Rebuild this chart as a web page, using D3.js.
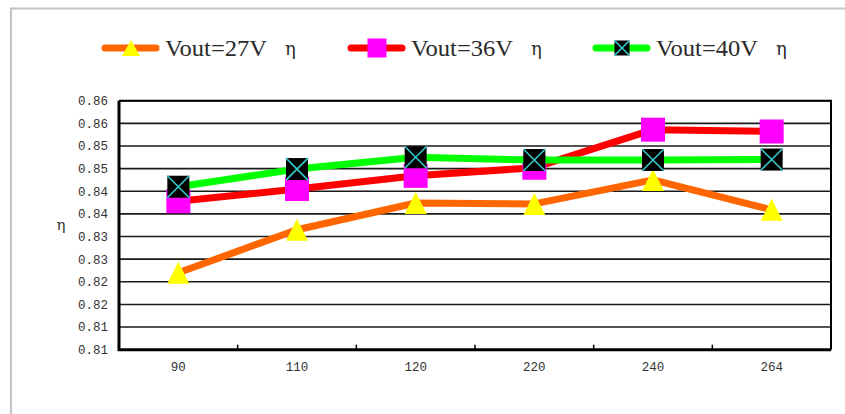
<!DOCTYPE html>
<html><head><meta charset="utf-8">
<script src="https://cdn.jsdelivr.net/npm/d3@7"></script>
<style>body{margin:0;background:#fff}svg{display:block}</style>
</head><body>
<svg id="chart" width="845" height="414"></svg>
<script>
const categories = ["90","110","120","220","240","264"];
const v27 = [0.8220, 0.8315, 0.8374, 0.8372, 0.8425, 0.8359];
const v36 = [0.8378, 0.8405, 0.8434, 0.8452, 0.8536, 0.8532];
const v40 = [0.8410, 0.8449, 0.8475, 0.8469, 0.8469, 0.8470];
const seriesNames = ["Vout=27V", "Vout=36V", "Vout=40V"];
const yTicks = [0.805,0.81,0.815,0.82,0.825,0.83,0.835,0.84,0.845,0.85,0.855,0.86];
const yTickLabels = ["0.81","0.81","0.82","0.82","0.83","0.83","0.84","0.84","0.85","0.85","0.86","0.86"];

const svg = d3.select("#chart");
const L = 119, R = 831, T = 100.7, B = 349.7;
const x = d3.scaleBand().domain(categories).range([L, R]);
const y = d3.scaleLinear().domain([0.805, 0.86]).range([B, T]);

// outer frame
svg.append("path").attr("d", `M11,414 V8.5 H845`).attr("fill","none").attr("stroke","#c4c4c4").attr("stroke-width",2.2);

// gridlines
svg.append("g").selectAll("line").data(yTicks).join("line")
  .attr("x1", L).attr("x2", R).attr("y1", d=>y(d)).attr("y2", d=>y(d))
  .attr("stroke","#1a1a1a").attr("stroke-width",1.6);

// y tick labels
svg.append("g").selectAll("text").data(yTicks).join("text")
  .attr("x", 108).attr("y", d=>y(d)).attr("dy","0.35em").attr("text-anchor","end")
  .attr("font-family","Liberation Mono, monospace").attr("font-size",12.5).attr("fill","#333")
  .text((d,i)=>yTickLabels[i]);

// frame: top/right thinner, left/bottom thicker
svg.append("path").attr("d",`M${L},${T} H${R} V${B}`).attr("fill","none").attr("stroke","#000").attr("stroke-width",2);
svg.append("path").attr("d",`M${L},${T} V${B} H${R}`).attr("fill","none").attr("stroke","#000").attr("stroke-width",3);

// x ticks (inside, at band boundaries)
const bounds = categories.slice(1).map(c => x(c));
svg.append("g").selectAll("line").data(bounds).join("line")
  .attr("x1", d=>d).attr("x2", d=>d).attr("y1", B).attr("y2", B-5)
  .attr("stroke","#000").attr("stroke-width",1.5);

// x labels
svg.append("g").selectAll("text").data(categories).join("text")
  .attr("x", d=>x(d)+x.bandwidth()/2).attr("y", 367).attr("dy","0.35em").attr("text-anchor","middle")
  .attr("font-family","Liberation Mono, monospace").attr("font-size",12.5).attr("fill","#333")
  .text(d=>d);

// y axis title
svg.append("text").attr("x",61).attr("y",225).attr("dy","0.35em").attr("text-anchor","middle")
  .attr("font-family","DejaVu Serif, serif").attr("font-size",15).attr("fill","#333").text("η");

const cx = c => x(c) + x.bandwidth()/2;
const line = d3.line().x((d,i)=>cx(categories[i])).y(d=>y(d));

function tri(g, px, py, w, h){
  g.append("path").attr("d",`M${px},${py-h/2} L${px+w/2},${py+h/2} L${px-w/2},${py+h/2} Z`).attr("fill","#ffff00");
}
function sq(g, px, py, s){
  g.append("rect").attr("x",px-s/2).attr("y",py-s/2).attr("width",s).attr("height",s).attr("fill","#ff00ff");
}
function xsq(g, px, py, s){
  g.append("rect").attr("x",px-s/2).attr("y",py-s/2).attr("width",s).attr("height",s).attr("fill","#000");
  g.append("path").attr("d",`M${px-s/2},${py-s/2} L${px+s/2},${py+s/2} M${px+s/2},${py-s/2} L${px-s/2},${py+s/2}`)
    .attr("stroke","#33cccc").attr("stroke-width",1.6);
}

const series = [
  {vals:v27, color:"#ff6600", marker:(g,px,py)=>tri(g,px,py,22,22), lm:(g,px,py)=>tri(g,px,py,18,16)},
  {vals:v36, color:"#ff0000", marker:(g,px,py)=>sq(g,px,py,24), lm:(g,px,py)=>sq(g,px,py,19)},
  {vals:v40, color:"#00ff00", marker:(g,px,py)=>xsq(g,px,py,22), lm:(g,px,py)=>xsq(g,px,py,15)}
];

series.forEach(s=>{
  const g = svg.append("g");
  g.append("path").attr("d", line(s.vals)).attr("fill","none").attr("stroke",s.color)
    .attr("stroke-width",7).attr("stroke-linejoin","round");
  s.vals.forEach((v,i)=> s.marker(g, cx(categories[i]), y(v)));
});

// legend
const legX = [102, 348, 593];
series.forEach((s,i)=>{
  const g = svg.append("g");
  const x0 = legX[i];
  g.append("line").attr("x1",x0+3).attr("x2",x0+54).attr("y1",48).attr("y2",48)
    .attr("stroke",s.color).attr("stroke-width",7).attr("stroke-linecap","round");
  s.lm(g, x0+29, 48);
  g.append("text").attr("x",x0+63).attr("y",56).attr("font-family","Liberation Serif, serif")
    .attr("font-size",24).attr("fill","#2a2a2a").attr("textLength",102).attr("lengthAdjust","spacingAndGlyphs")
    .text(seriesNames[i]);
  g.append("text").attr("x",x0+183).attr("y",55).attr("font-family","DejaVu Serif, serif")
    .attr("font-size",18).attr("fill","#2a2a2a").text("η");
});
</script>
</body></html>
